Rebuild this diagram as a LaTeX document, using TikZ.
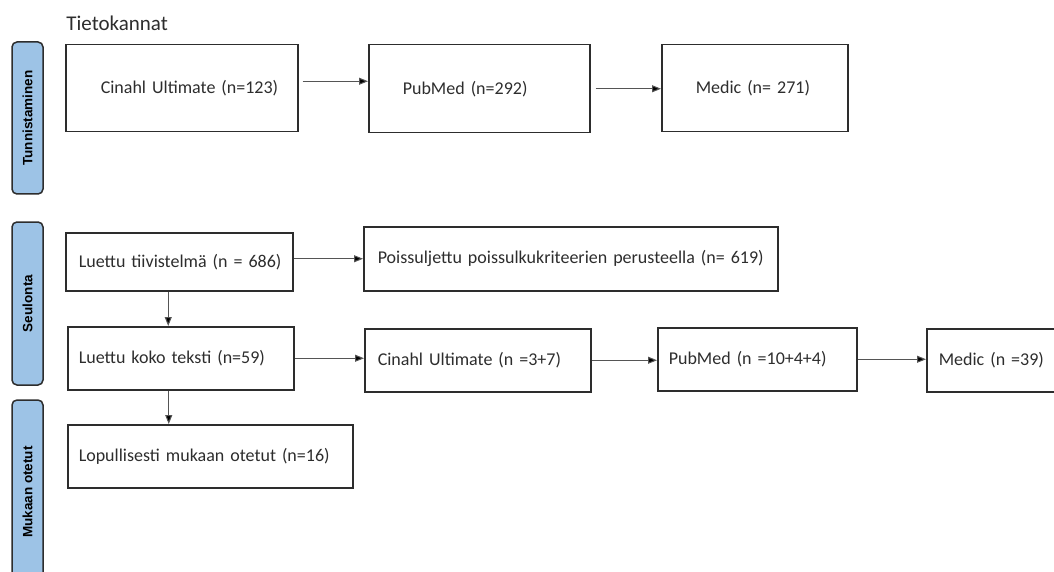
\documentclass[tikz,border=0pt]{standalone}
\usepackage{fontspec}
\setmainfont{Carlito}
\newfontfamily\sidefont{Liberation Sans}
\usetikzlibrary{arrows.meta}

\definecolor{barblue}{RGB}{157,195,230}
\definecolor{inkgray}{RGB}{45,45,45}
\definecolor{linegray}{RGB}{85,85,85}

\tikzset{every picture/.style={line width=0.75pt}}
\tikzset{
  stagebox/.style n args={3}{draw=inkgray, line width=1.5pt, anchor=north west,
    inner xsep=0pt, inner ysep=0pt, text width=#1pt, minimum height=#2pt,
    align=left, text=inkgray, font=\fontsize{18}{22}\selectfont,
    execute at begin node={\hspace*{#3pt}}},
  phasebar/.style={draw=inkgray, fill=barblue, rounded corners=5pt, line width=1.5pt,
    rotate=90, minimum height=31pt, inner sep=0pt,
    font=\sidefont\bfseries\fontsize{13.5}{16}\selectfont, text=black},
  flow/.style={draw=linegray, line width=1pt, -{Triangle[length=9pt,width=7pt,fill=black]}},
  headline/.style={anchor=west, inner sep=0pt, text=inkgray, font=\fontsize{21}{25}\selectfont},
}

\begin{document}
\begin{tikzpicture}[x=1pt,y=1pt,yscale=-1,xscale=1]
		\useasboundingbox (0,0) rectangle (1054,572);

		% Text Node
		\node [headline] (tieto) at (66,23) {Tietokannat};

		%Shape: Rounded Rect [phases]
		\node [phasebar, minimum width=152pt] (tunn) at (27.5,118) {Tunnistaminen};
		\node [phasebar, minimum width=163pt] (seul) at (27.5,303.5) {Seulonta};
		\node [phasebar, minimum width=184pt] (muk) at (27.5,492) {Mukaan otetut};

		%Shape: Rectangle [databases]
		\node [stagebox={232}{87}{35}] (cinA) at (65,44) {Cinahl Ultimate (n=123)};
		\node [stagebox={221}{88}{34}] (pubA) at (368,44) {PubMed (n=292)};
		\node [stagebox={186}{87}{34}] (medA) at (661,44) {Medic (n= 271)};

		%Shape: Rectangle [screening]
		\node [stagebox={227}{58}{13}] (absA) at (65,232) {Luettu tiivistelmä (n = 686)};
		\node [stagebox={414}{64}{14}] (excl) at (363,226) {Poissuljettu poissulkukriteerien perusteella (n= 619)};
		\node [stagebox={226}{63}{11}] (full) at (67,326) {Luettu koko teksti (n=59)};
		\node [stagebox={226}{63}{13}] (cinB) at (364,328) {Cinahl Ultimate (n =3+7)};
		\node [stagebox={199}{63}{11}] (pubB) at (657,327) {PubMed (n =10+4+4)};
		\node [stagebox={140}{63}{12}] (medB) at (926,328) {Medic (n =39)};

		%Shape: Rectangle [included]
		\node [stagebox={285}{63}{11}] (final) at (67,424) {Lopullisesti mukaan otetut (n=16)};

		%Straight Lines
		\draw [flow, shorten <=4pt] ([yshift=-7pt]cinA.east) -- ([yshift=-7pt]cinA.east -| pubA.west);
		\draw [flow, shorten <=5pt] (pubA.east) -- (pubA.east -| medA.west);
		\draw [flow] (absA.east |- excl.west) -- (excl.west);
		\draw [flow] ([xshift=-11pt]absA.south) -- ([xshift=-11pt]absA.south |- full.north);
		\draw [flow] (full.east) -- (full.east -| cinB.west);
		\draw [flow] (cinB.east) -- (cinB.east -| pubB.west);
		\draw [flow] (pubB.east) -- (pubB.east -| medB.west);
		\draw [flow] ([xshift=-12pt]full.south) -- ([xshift=-12pt]full.south |- final.north);

	\end{tikzpicture}
\end{document}
